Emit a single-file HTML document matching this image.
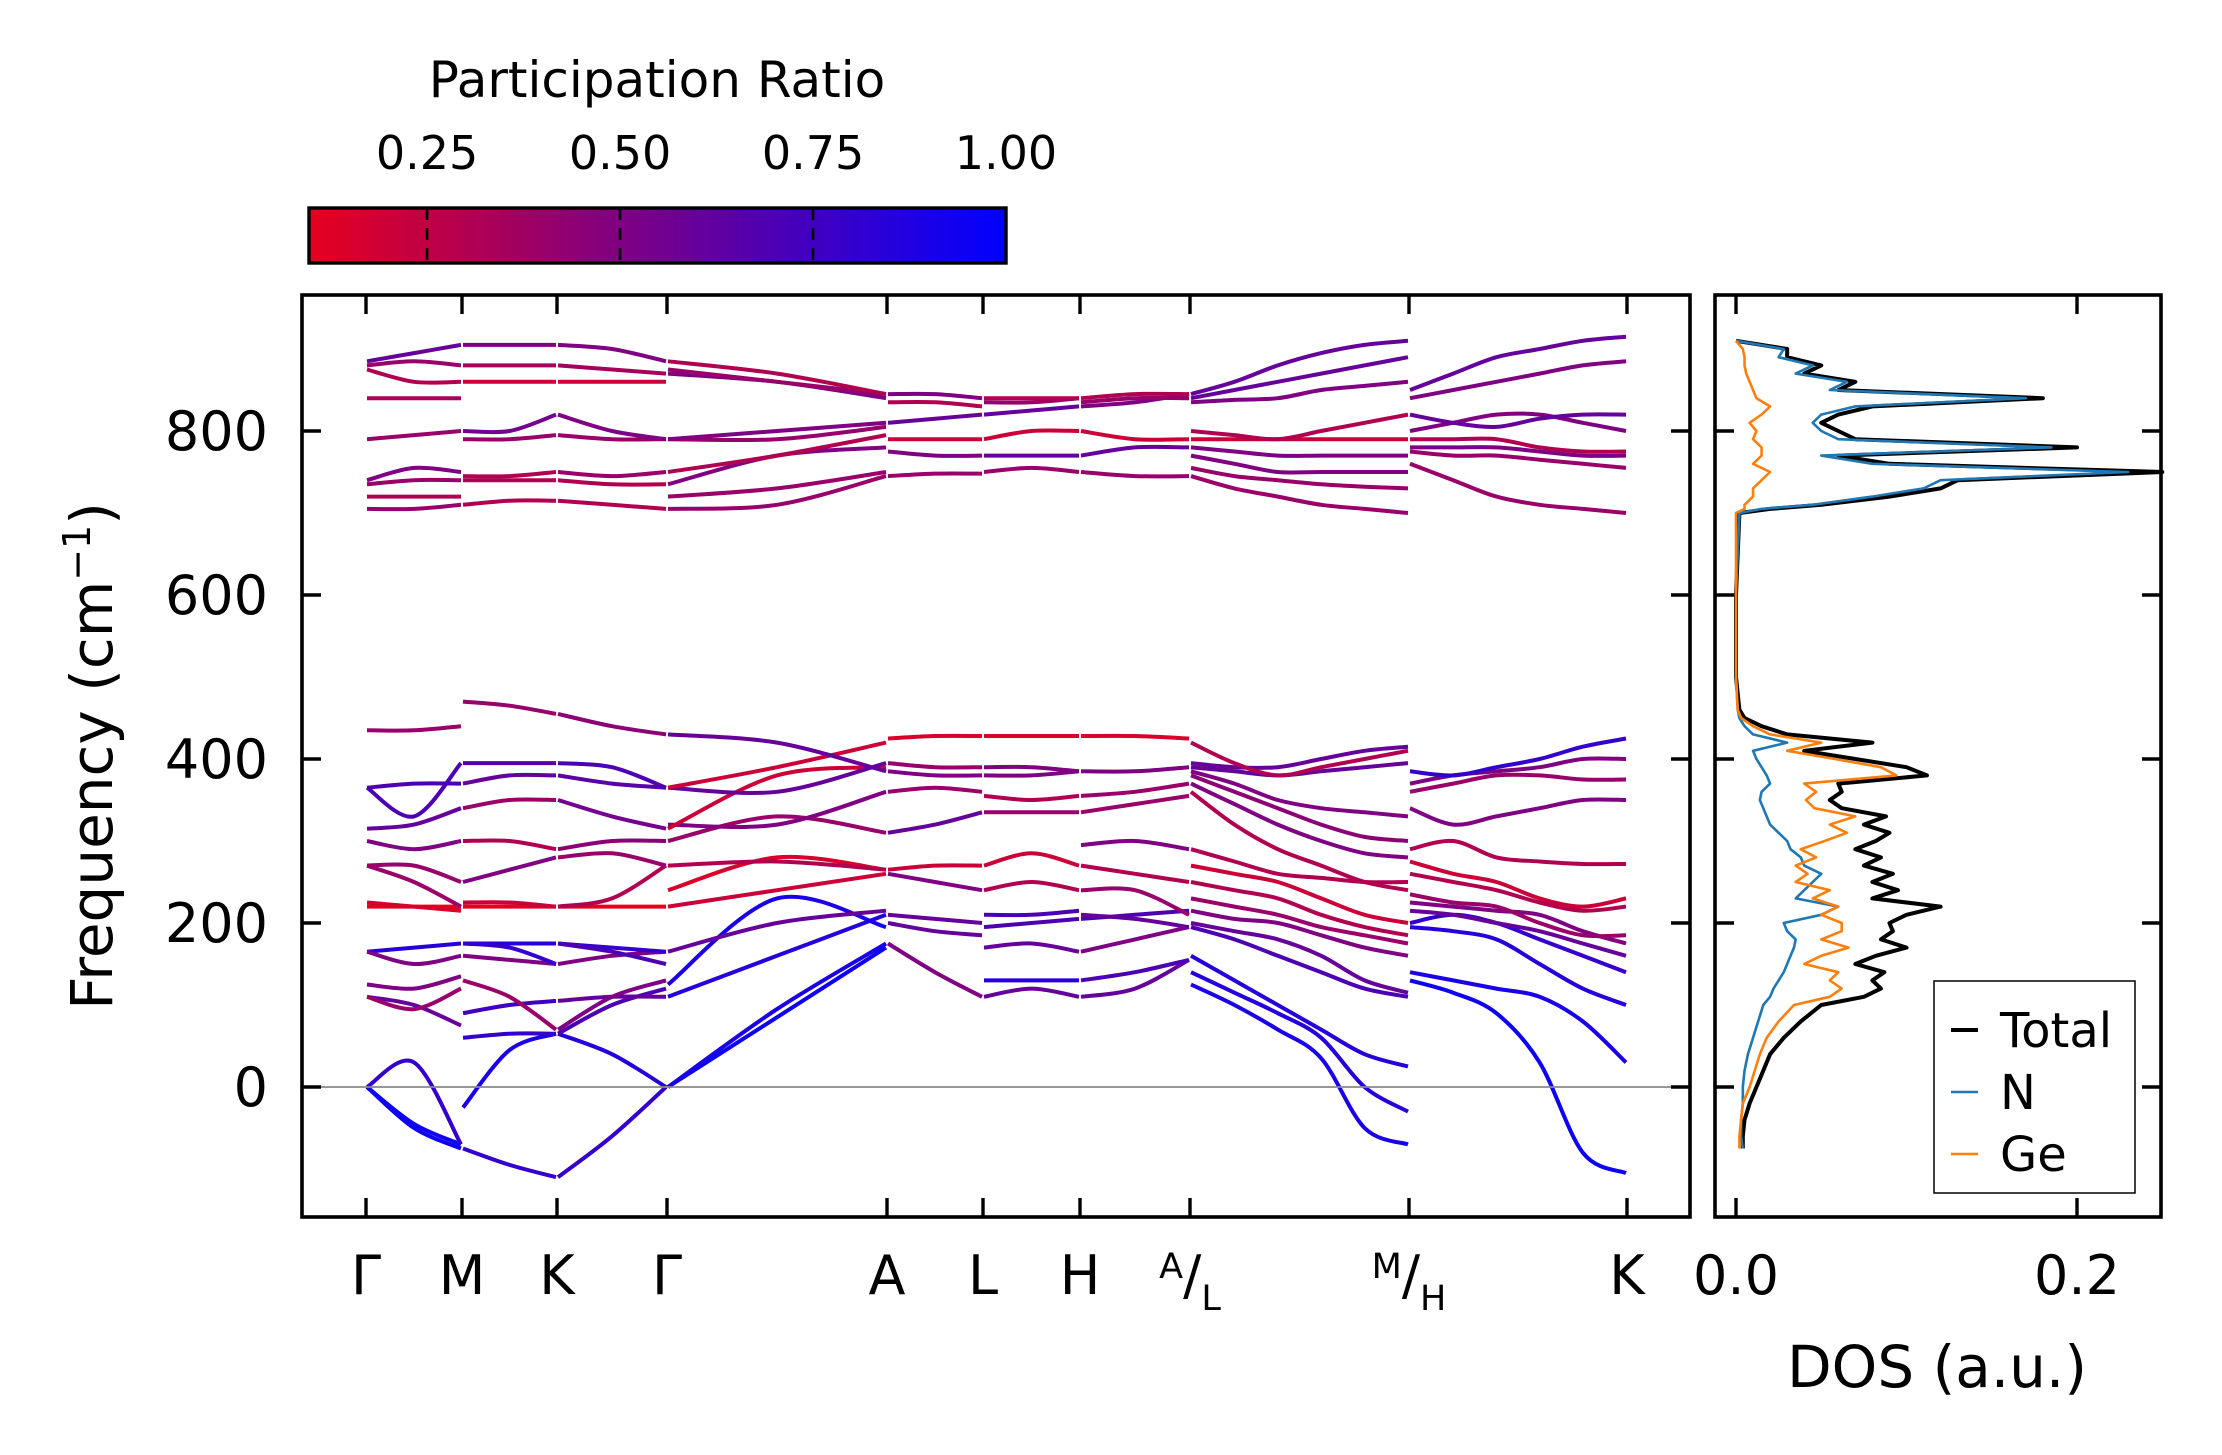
<!DOCTYPE html>
<html><head><meta charset="utf-8"><style>
html,body{margin:0;padding:0;background:#fff;}
svg{display:block;font-family:"DejaVu Sans","Liberation Sans",sans-serif;}
</style></head><body>
<svg id="chart" width="2222" height="1455" viewBox="0 0 2222 1455" xmlns="http://www.w3.org/2000/svg">
<defs>
<linearGradient id="cmap" x1="0" x2="1" y1="0" y2="0">
<stop offset="0" stop-color="rgb(230,0,30)"/><stop offset="1" stop-color="rgb(0,0,255)"/>
</linearGradient>
</defs>
<g id="bands"></g>
<g id="dos"></g>
<g id="axes"></g>
</svg>
<script>
// ---- data ----
const kLabels = ["Γ","M","K","Γ","A","L","H","A/L","M/H","K"];
const yTicks = [0,200,400,600,800];
const cbTicks = [0.25,0.50,0.75,1.00];
const dosTicks = [0.0,0.2];
const seg1 = [[0,-50,-75,.95],[0,-45,-70,.95],[0,30,-70,.8],[110,100,75,.6],[110,95,120,.4],[125,120,135,.5],[165,170,175,.85],[165,150,160,.5],[220,220,220,.1],[225,220,215,.15],[270,250,220,.4],[270,270,250,.4],[300,290,300,.5],[315,320,340,.6],[365,370,370,.7],[365,330,395,.7],[435,435,440,.4],[705,705,710,.4],[720,720,720,.3],[735,740,740,.4],[740,755,750,.5],[790,795,800,.4],[840,840,840,.35],[875,860,860,.3],[880,885,880,.4],[885,895,905,.6]];
const seg2 = [[-75,-95,-110,.8],[-25,45,65,.9],[60,65,65,.8],[90,100,105,.75],[130,110,70,.4],[160,155,150,.5],[175,175,175,.85],[175,170,150,.8],[220,220,220,.1],[225,225,220,.2],[250,265,280,.5],[300,300,290,.3],[340,350,350,.4],[370,380,380,.6],[395,395,395,.65],[470,465,455,.4],[710,715,715,.3],[740,740,740,.3],[745,745,750,.3],[790,790,795,.4],[800,800,820,.55],[860,860,860,.2],[880,880,880,.35],[905,905,905,.5]];
const seg3 = [[-110,-60,0,.8],[65,40,0,.85],[65,100,120,.7],[105,110,110,.6],[70,110,130,.5],[150,160,165,.5],[175,170,165,.8],[175,165,150,.7],[220,220,220,.1],[220,230,270,.3],[280,285,270,.4],[290,300,300,.45],[350,330,315,.55],[380,370,365,.65],[395,390,365,.7],[455,440,430,.45],[715,710,705,.3],[740,735,735,.3],[750,745,750,.4],[795,790,790,.4],[820,800,790,.5],[860,860,860,.2],[880,875,870,.35],[905,900,885,.5]];
const seg4 = [[0,85,170,.95],[0,95,175,.9],[110,160,210,.85],[125,230,195,.9],[165,200,215,.6],[220,240,260,.2],[240,280,265,.15],[270,275,265,.3],[300,330,310,.4],[320,320,360,.5],[315,380,390,.2],[365,360,395,.6],[365,390,420,.2],[430,420,385,.6],[705,710,745,.4],[720,730,750,.4],[735,770,780,.5],[750,770,795,.3],[790,790,805,.4],[790,800,810,.5],[870,860,840,.5],[875,860,845,.4],[885,870,845,.3]];
const seg5 = [[175,140,110,.5],[200,190,185,.6],[210,205,200,.6],[265,270,270,.2],[260,250,240,.5],[310,320,335,.6],[360,365,360,.4],[385,380,380,.5],[395,390,390,.4],[425,428,428,.15],[745,748,748,.4],[775,770,770,.5],[790,790,790,.2],[810,815,820,.6],[835,835,830,.3],[845,845,840,.5]];
const seg6 = [[110,120,110,.6],[130,130,130,.85],[170,175,165,.6],[195,200,205,.7],[210,210,215,.7],[240,250,240,.3],[270,285,270,.2],[335,335,335,.4],[355,350,355,.3],[380,380,385,.5],[390,390,385,.5],[428,428,428,.15],[750,755,750,.4],[770,770,770,.6],[790,800,800,.2],[820,825,830,.6],[835,835,840,.4],[840,840,840,.3]];
const seg7 = [[110,120,155,.6],[130,140,155,.7],[165,180,195,.5],[205,210,215,.7],[210,205,195,.6],[240,240,210,.4],[270,260,250,.3],[295,300,290,.5],[335,345,355,.4],[355,360,370,.4],[385,385,390,.5],[428,428,425,.15],[750,745,745,.4],[770,780,780,.6],[800,790,790,.2],[830,835,845,.5],[835,840,840,.4],[840,845,845,.3]];
const seg8 = [[125,100,70,35,-50,-70,.9],[140,115,90,60,0,-30,.85],[160,130,100,70,40,25,.85],[195,180,160,140,120,110,.7],[200,190,180,160,130,115,.6],[215,205,200,185,170,160,.5],[230,220,210,195,185,175,.4],[250,240,230,210,195,185,.3],[270,260,250,230,210,200,.2],[290,275,260,255,250,250,.3],[360,320,290,270,250,240,.3],[370,345,320,300,285,280,.5],[380,360,340,320,305,300,.45],[385,370,350,340,335,330,.5],[390,385,380,385,390,395,.6],[395,390,390,400,410,415,.6],[420,395,380,390,400,410,.3],[745,730,720,710,705,700,.4],[755,745,740,735,732,730,.4],[770,760,750,750,750,750,.5],[780,775,770,770,770,770,.5],[790,790,790,790,790,790,.2],[800,795,790,800,810,820,.3],[835,838,840,850,855,860,.5],[840,850,860,870,880,890,.6],[845,860,880,895,905,910,.6]];
const seg9 = [[130,115,90,30,-80,-105,.95],[140,130,120,110,80,30,.9],[195,190,180,150,120,100,.85],[200,210,200,180,160,140,.8],[215,210,200,190,175,160,.6],[225,220,215,210,190,175,.5],[235,225,220,200,185,185,.4],[260,250,240,225,215,220,.3],[275,260,250,230,220,230,.2],[290,300,280,275,272,272,.3],[340,320,330,340,350,350,.5],[360,370,380,380,375,375,.4],[370,380,385,390,400,400,.5],[385,380,390,400,415,425,.8],[760,740,720,710,705,700,.4],[775,770,770,765,760,755,.4],[780,780,780,775,770,770,.5],[790,790,790,780,775,775,.3],[800,810,820,820,810,800,.5],[820,810,805,815,820,820,.6],[840,850,860,870,880,885,.5],[850,870,890,900,910,915,.6]];
const segments = [seg1,seg2,seg3,seg4,seg5,seg6,seg7,seg8,seg9];
const dosFreq = [-75,-60,-40,-20,0,20,40,60,80,100,110,120,130,140,150,160,170,180,190,200,210,220,230,240,250,260,270,280,290,300,310,320,330,340,350,360,370,380,390,400,410,420,430,440,450,460,500,600,700,705,710,720,730,740,750,760,770,780,790,800,810,820,830,840,850,860,870,880,890,900,910];
const dosTotal = [0.004,0.004,0.005,0.008,0.012,0.016,0.02,0.028,0.038,0.05,0.075,0.085,0.08,0.087,0.07,0.082,0.1,0.085,0.092,0.09,0.1,0.12,0.08,0.095,0.08,0.092,0.075,0.085,0.07,0.082,0.09,0.075,0.088,0.062,0.055,0.062,0.06,0.112,0.1,0.07,0.04,0.08,0.03,0.015,0.005,0.002,0.0,0.0,0.002,0.02,0.05,0.09,0.12,0.13,0.25,0.09,0.06,0.2,0.07,0.06,0.05,0.06,0.08,0.18,0.06,0.07,0.04,0.05,0.03,0.03,0.0];
const dosN = [0.004,0.003,0.003,0.004,0.004,0.005,0.007,0.01,0.013,0.016,0.02,0.022,0.025,0.028,0.03,0.032,0.034,0.035,0.03,0.028,0.05,0.06,0.035,0.04,0.045,0.05,0.04,0.038,0.032,0.03,0.025,0.02,0.018,0.016,0.014,0.015,0.02,0.018,0.015,0.012,0.01,0.03,0.01,0.005,0.002,0.001,0.0,0.0,0.002,0.015,0.045,0.08,0.11,0.12,0.23,0.08,0.05,0.185,0.06,0.05,0.045,0.05,0.07,0.17,0.055,0.065,0.035,0.045,0.025,0.028,0.0];
const dosGe = [0.002,0.002,0.003,0.004,0.008,0.011,0.014,0.018,0.025,0.034,0.055,0.062,0.055,0.06,0.04,0.05,0.066,0.05,0.062,0.062,0.05,0.06,0.045,0.055,0.035,0.042,0.035,0.047,0.038,0.052,0.065,0.055,0.07,0.046,0.041,0.047,0.04,0.094,0.085,0.058,0.03,0.05,0.02,0.01,0.003,0.001,0.0,0.0,0.0,0.005,0.005,0.01,0.01,0.015,0.02,0.01,0.015,0.015,0.01,0.012,0.008,0.015,0.02,0.012,0.01,0.008,0.006,0.005,0.005,0.004,0.0];

// ---- geometry ----
const NS="http://www.w3.org/2000/svg";
const L=302,R=1690,T=295,B=1217;
const DL=1715,DR=2161;
const kX=[366,462,557,667,887,983,1080,1190,1409,1627];
const yOf=v=>1087-(v)*(656/800);
const dX=v=>1736+v*1705;
const FS=54;
function el(tag,attrs,parent,txt){const e=document.createElementNS(NS,tag);for(const k in attrs)e.setAttribute(k,attrs[k]);if(txt!==undefined)e.textContent=txt;parent.appendChild(e);return e;}
function prColor(p){const t=Math.max(0,Math.min(1,(p-0.097)/(1-0.097)));return `rgb(${Math.round(230*(1-t))},0,${Math.round(30+225*t)})`;}
const gB=document.getElementById('bands');
segments.forEach((seg,si)=>{
  const x0=kX[si]+1,x1=kX[si+1]-1;
  seg.forEach((b)=>{
    const vals=b.slice(0,-1),pr=b[b.length-1];
    const n=vals.length;
    const pts=vals.map((v,i)=>[x0+(x1-x0)*i/(n-1),yOf(v)]);
    let d=`M${pts[0][0]},${pts[0][1]}`;
    for(let i=0;i<n-1;i++){
      const p0=pts[Math.max(0,i-1)],p1=pts[i],p2=pts[i+1],p3=pts[Math.min(n-1,i+2)];
      const c1=[p1[0]+(p2[0]-p0[0])/6,p1[1]+(p2[1]-p0[1])/6];
      const c2=[p2[0]-(p3[0]-p1[0])/6,p2[1]-(p3[1]-p1[1])/6];
      d+=` C${c1[0]},${c1[1]} ${c2[0]},${c2[1]} ${p2[0]},${p2[1]}`;
    }
    const p=el('path',{d:d,fill:'none',stroke:prColor(pr),'stroke-width':4},gB);
    
    
  });
});
const gD=document.getElementById('dos');
function dosLine(arr,color,w,name){
  const d=arr.map((v,i)=>(i?'L':'M')+dX(v)+','+yOf(dosFreq[i])).join(' ');
  const p=el('path',{d:d,fill:'none',stroke:color,'stroke-width':w,'stroke-linejoin':'round'},gD);
  
  
}
dosLine(dosTotal,'#000',4,'dos-total-line');
dosLine(dosN,'#1f77b4',2.6,'dos-n-line');
dosLine(dosGe,'#ff7f0e',2.6,'dos-ge-line');

// ---- axes ----
const gA=document.getElementById('axes');
const z=el('line',{x1:L,x2:R,y1:yOf(0),y2:yOf(0),stroke:'#888','stroke-width':1.8},gA);

const mb=el('rect',{x:L,y:T,width:R-L,height:B-T,fill:'none',stroke:'#000','stroke-width':3.6},gA);

const db=el('rect',{x:DL,y:T,width:DR-DL,height:B-T,fill:'none',stroke:'#000','stroke-width':3.6},gA);

yTicks.forEach(v=>{
  const y=yOf(v);
  [[L,L+19],[R,R-19],[DL,DL+19],[DR,DR-19]].forEach(([a,b])=>el('line',{x1:a,x2:b,y1:y,y2:y,stroke:'#000','stroke-width':3.4},gA));
  const t=el('text',{x:L-34,y:y+19,'font-size':FS,'text-anchor':'end'},gA,String(v));
  
});
kX.forEach((x,i)=>{
  el('line',{x1:x,x2:x,y1:B,y2:B-19,stroke:'#000','stroke-width':3.4},gA);
  el('line',{x1:x,x2:x,y1:T,y2:T+19,stroke:'#000','stroke-width':3.4},gA);
  const lab=kLabels[i];
  let t;
  if(lab.includes('/')){
    const [a,b]=lab.split('/');
    t=el('text',{x:x,y:1294,'font-size':FS,'text-anchor':'middle'},gA);
    el('tspan',{'font-size':35,dy:-16},t,a);
    el('tspan',{'font-size':FS,dy:16},t,'/');
    el('tspan',{'font-size':35,dy:16},t,b);
  } else t=el('text',{x:x,y:1294,'font-size':FS,'text-anchor':'middle'},gA,lab);
  
});
dosTicks.forEach(v=>{
  const x=dX(v);
  el('line',{x1:x,x2:x,y1:B,y2:B-19,stroke:'#000','stroke-width':3.4},gA);
  el('line',{x1:x,x2:x,y1:T,y2:T+19,stroke:'#000','stroke-width':3.4},gA);
  const t=el('text',{x:x,y:1294,'font-size':FS,'text-anchor':'middle'},gA,v.toFixed(1));
  
});
let t=el('text',{x:0,y:0,'font-size':58,'text-anchor':'middle',transform:'translate(112,756) rotate(-90)'},gA);
el('tspan',{},t,'Frequency (cm');el('tspan',{'font-size':38,dy:-22},t,'−1');el('tspan',{dy:22},t,')');

t=el('text',{x:1937,y:1387,'font-size':58,'text-anchor':'middle'},gA,'DOS (a.u.)');

const cb=el('rect',{x:309,y:208,width:697,height:55,fill:'url(#cmap)',stroke:'#000','stroke-width':3.4},gA);

const cbX=v=>309+(v-0.097)/(1-0.097)*697;
cbTicks.forEach(v=>{
  const x=cbX(v);
  if(v<1)el('line',{x1:x,x2:x,y1:208,y2:263,stroke:'#000','stroke-width':2.6,'stroke-dasharray':'12,8'},gA);
  const tt=el('text',{x:x,y:169,'font-size':46,'text-anchor':'middle'},gA,v.toFixed(2));
  
});
t=el('text',{x:657,y:97,'font-size':50,'text-anchor':'middle'},gA,'Participation Ratio');

const lg=el('g',{},gA);

el('rect',{x:1934,y:981,width:201,height:212,fill:'#fff',stroke:'#000','stroke-width':1.5},lg);
[['Total','#000',4],['N','#1f77b4',2.6],['Ge','#ff7f0e',2.6]].forEach((e,i)=>{
  const y=1030+i*62;
  el('line',{x1:1951,x2:1978,y1:y,y2:y,stroke:e[1],'stroke-width':e[2]},lg);
  const lt=el('text',{x:2000,y:y+17,'font-size':48},lg,e[0]);
  
});
</script>
</body></html>
